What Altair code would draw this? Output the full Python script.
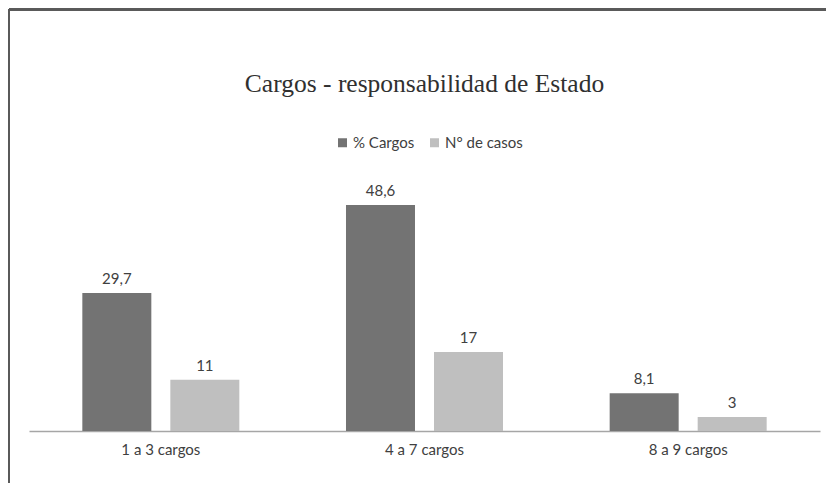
import altair as alt
import pandas as pd

categories = ["1 a 3 cargos", "4 a 7 cargos", "8 a 9 cargos"]
series_names = ["% Cargos", "N° de casos"]
pct_cargos = [29.7, 48.6, 8.1]
n_casos = [11, 17, 3]

rows = []
for c, p, n in zip(categories, pct_cargos, n_casos):
    rows.append({"cat": c, "serie": series_names[0], "valor": p,
                 "label": f"{p:.1f}".replace(".", ",")})
    rows.append({"cat": c, "serie": series_names[1], "valor": n,
                 "label": f"{n:d}"})
df = pd.DataFrame(rows)

W, H = 791, 279
PAD_L, PAD_T = 21, 144
TXT = "#404040"

base = alt.Chart(df).encode(
    x=alt.X("cat:N", sort=categories, title=None,
            scale=alt.Scale(paddingInner=0, paddingOuter=0),
            axis=alt.Axis(labelAngle=0, ticks=False, domainColor="#a6a6a6",
                          domainWidth=1.5, labelFont="Lato", labelFontSize=15,
                          labelColor=TXT, labelPadding=11, grid=False)),
    xOffset=alt.XOffset("serie:N", sort=series_names,
                        scale=alt.Scale(paddingInner=0.216, paddingOuter=0.606)),
    y=alt.Y("valor:Q", scale=alt.Scale(domain=[0, 60]), axis=None),
)

bars = base.mark_bar().encode(
    color=alt.Color("serie:N", sort=series_names,
                    scale=alt.Scale(domain=series_names, range=["#737373", "#bfbfbf"]),
                    legend=alt.Legend(orient="none", direction="horizontal",
                                      legendX=306, legendY=-17, title=None,
                                      symbolType="square", symbolSize=81,
                                      symbolStrokeWidth=0, labelFont="Lato",
                                      labelFontSize=15, labelColor=TXT,
                                      labelOffset=3, columnPadding=12))
)

labels = base.mark_text(baseline="alphabetic", dy=-9, font="Lato",
                        fontSize=15, color=TXT).encode(text="label:N")

frame_top = alt.Chart(df).mark_rule(color="#595959", strokeWidth=2).encode(
    x=alt.value(-PAD_L + 1), x2=alt.value(W + 10), y=alt.value(-PAD_T + 1.5))
frame_left = alt.Chart(df).mark_rule(color="#595959", strokeWidth=2).encode(
    x=alt.value(-PAD_L + 0.5), y=alt.value(-PAD_T + 1), y2=alt.value(H + 60))

chart = alt.layer(bars, labels, frame_top, frame_left).properties(
    width=W, height=H,
    title=alt.TitleParams("Cargos - responsabilidad de Estado", font="Liberation Serif",
                          fontSize=25.5, fontWeight="normal", color="#303030",
                          anchor="middle", offset=0, dy=89),
    autosize=alt.AutoSizeParams(type="none"),
    padding={"left": PAD_L, "top": PAD_T, "right": 6, "bottom": 52},
).configure_view(stroke=None)

chart.save("out.html", embed_options={"renderer": "svg", "actions": False})
